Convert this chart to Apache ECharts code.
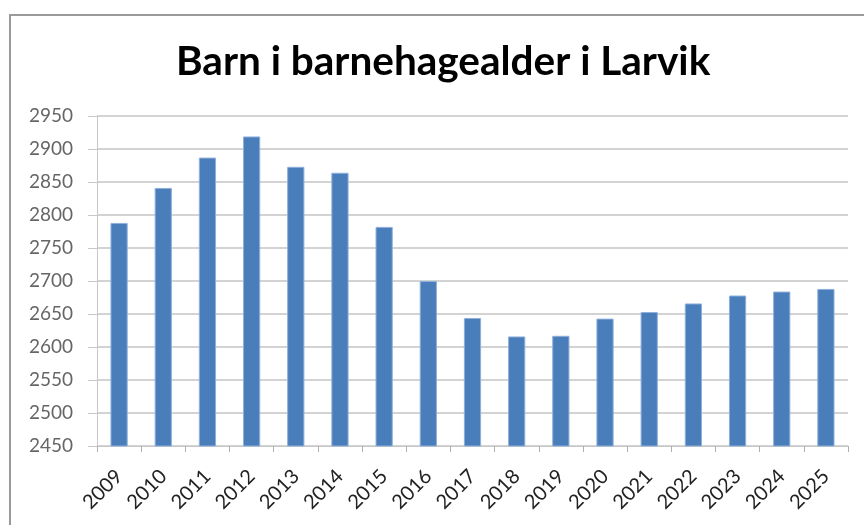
<!DOCTYPE html>
<html>
<head>
<meta charset="utf-8">
<script src="https://cdn.jsdelivr.net/npm/echarts@6/dist/echarts.min.js"></script>
<style>
html,body{margin:0;padding:0;background:#fff;}
#chart{width:864px;height:525px;}
</style>
</head>
<body>
<div id="chart"></div>
<script>
const titleText = "Barn i barnehagealder i Larvik";
const years = ["2009","2010","2011","2012","2013","2014","2015","2016","2017","2018","2019","2020","2021","2022","2023","2024","2025"];
const children = [2788, 2841, 2887, 2919, 2873, 2864, 2782, 2700, 2644, 2616, 2617, 2643, 2653, 2666, 2678, 2684, 2688];
const yMin = 2450, yMax = 2950, yStep = 50;

const chart = echarts.init(document.getElementById('chart'), null, {renderer:'canvas'});
chart.setOption({
  animation:false,
  backgroundColor:'#fff',
  title:{
    text:titleText, left:171, top:36,
    textStyle:{fontFamily:'Lato', fontWeight:'bold', fontSize:40.5, color:'#000'}
  },
  graphic:[{
    type:'polyline',
    shape:{points:[[10,525],[10,15],[864,15]]},
    style:{stroke:'#9a9a9a', lineWidth:2, fill:null}
  }],
  grid:{left:97, right:16, top:116, bottom:79},
  xAxis:{
    type:'category', data:years,
    axisLine:{lineStyle:{color:'#c8c8c8', width:1}},
    axisTick:{show:true, length:6, lineStyle:{color:'#b0b0b0'}},
    axisLabel:{rotate:45, fontFamily:'Lato', fontSize:20, color:'#222', margin:27}
  },
  yAxis:{
    type:'value', min:yMin, max:yMax, interval:yStep,
    axisLine:{show:true, lineStyle:{color:'#c8c8c8'}},
    axisTick:{show:true, length:9, lineStyle:{color:'#c8c8c8'}},
    axisLabel:{fontFamily:'Lato', fontSize:19, color:'#666', margin:24,
               formatter:function(v){return String(v);}},
    splitLine:{lineStyle:{color:'#c4c4c4', width:1.5}}
  },
  series:[{
    type:'bar', data:children, barWidth:'39%',
    itemStyle:{color:'#4a7ebb', borderColor:'#8fb0da', borderWidth:1}
  }]
});
</script>
</body>
</html>
